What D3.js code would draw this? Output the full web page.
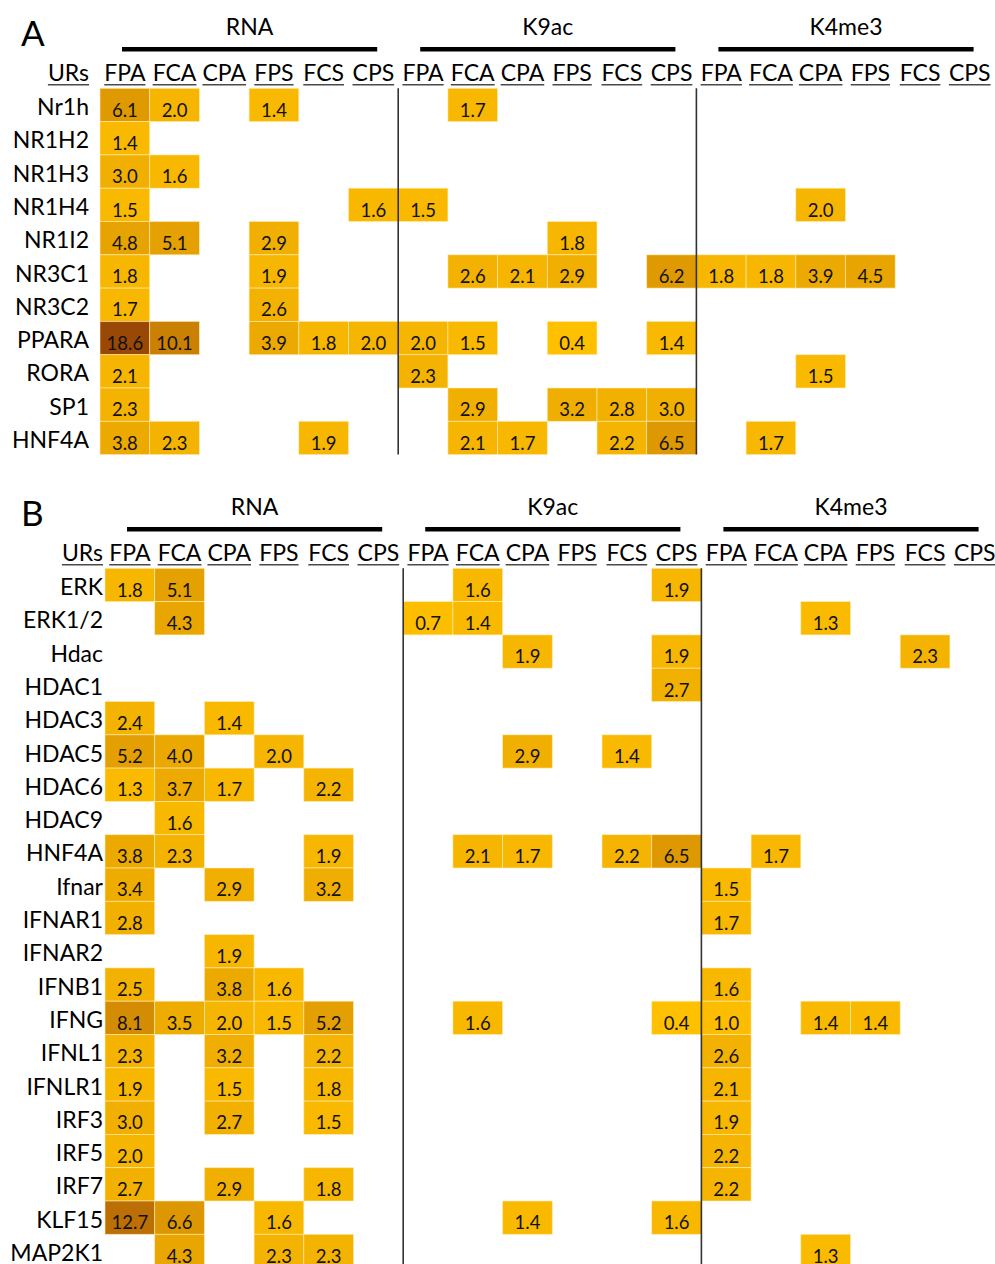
<!DOCTYPE html>
<html>
<head>
<meta charset="utf-8">
<script src="https://cdn.jsdelivr.net/npm/d3@7"></script>
<style>
  html, body { margin: 0; padding: 0; background: #fff; }
  svg { display: block; font-family: Lato, "Open Sans", sans-serif; }
</style>
</head>
<body>
<script>
// Assay groups and the six comparisons measured in each
const groups = ["RNA", "K9ac", "K4me3"];
const comparisons = ["FPA", "FCA", "CPA", "FPS", "FCS", "CPS"];

// Panel A: nuclear receptor upstream regulators
const rowsA = ["Nr1h", "NR1H2", "NR1H3", "NR1H4", "NR1I2", "NR3C1", "NR3C2", "PPARA", "RORA", "SP1", "HNF4A"];
const valuesA = [
  [6.1, 2.0, null, 1.4, null, null,   null, 1.7, null, null, null, null,   null, null, null, null, null, null],
  [1.4, null, null, null, null, null, null, null, null, null, null, null,  null, null, null, null, null, null],
  [3.0, 1.6, null, null, null, null,  null, null, null, null, null, null,  null, null, null, null, null, null],
  [1.5, null, null, null, null, 1.6,  1.5, null, null, null, null, null,   null, null, 2.0, null, null, null],
  [4.8, 5.1, null, 2.9, null, null,   null, null, null, 1.8, null, null,   null, null, null, null, null, null],
  [1.8, null, null, 1.9, null, null,  null, 2.6, 2.1, 2.9, null, 6.2,      1.8, 1.8, 3.9, 4.5, null, null],
  [1.7, null, null, 2.6, null, null,  null, null, null, null, null, null,  null, null, null, null, null, null],
  [18.6, 10.1, null, 3.9, 1.8, 2.0,   2.0, 1.5, null, 0.4, null, 1.4,      null, null, null, null, null, null],
  [2.1, null, null, null, null, null, 2.3, null, null, null, null, null,   null, null, 1.5, null, null, null],
  [2.3, null, null, null, null, null, null, 2.9, null, 3.2, 2.8, 3.0,      null, null, null, null, null, null],
  [3.8, 2.3, null, null, 1.9, null,   null, 2.1, 1.7, null, 2.2, 6.5,      null, 1.7, null, null, null, null]
];

// Panel B: kinase, HDAC and interferon-pathway upstream regulators
const rowsB = ["ERK", "ERK1/2", "Hdac", "HDAC1", "HDAC3", "HDAC5", "HDAC6", "HDAC9", "HNF4A", "Ifnar", "IFNAR1",
               "IFNAR2", "IFNB1", "IFNG", "IFNL1", "IFNLR1", "IRF3", "IRF5", "IRF7", "KLF15", "MAP2K1"];
const valuesB = [
  [1.8, 5.1, null, null, null, null,  null, 1.6, null, null, null, 1.9,    null, null, null, null, null, null],
  [null, 4.3, null, null, null, null, 0.7, 1.4, null, null, null, null,    null, null, 1.3, null, null, null],
  [null, null, null, null, null, null, null, null, 1.9, null, null, 1.9,   null, null, null, null, 2.3, null],
  [null, null, null, null, null, null, null, null, null, null, null, 2.7,  null, null, null, null, null, null],
  [2.4, null, 1.4, null, null, null,  null, null, null, null, null, null,  null, null, null, null, null, null],
  [5.2, 4.0, null, 2.0, null, null,   null, null, 2.9, null, 1.4, null,    null, null, null, null, null, null],
  [1.3, 3.7, 1.7, null, 2.2, null,    null, null, null, null, null, null,  null, null, null, null, null, null],
  [null, 1.6, null, null, null, null, null, null, null, null, null, null,  null, null, null, null, null, null],
  [3.8, 2.3, null, null, 1.9, null,   null, 2.1, 1.7, null, 2.2, 6.5,      null, 1.7, null, null, null, null],
  [3.4, null, 2.9, null, 3.2, null,   null, null, null, null, null, null,  1.5, null, null, null, null, null],
  [2.8, null, null, null, null, null, null, null, null, null, null, null,  1.7, null, null, null, null, null],
  [null, null, 1.9, null, null, null, null, null, null, null, null, null,  null, null, null, null, null, null],
  [2.5, null, 3.8, 1.6, null, null,   null, null, null, null, null, null,  1.6, null, null, null, null, null],
  [8.1, 3.5, 2.0, 1.5, 5.2, null,     null, 1.6, null, null, null, 0.4,    1.0, null, 1.4, 1.4, null, null],
  [2.3, null, 3.2, null, 2.2, null,   null, null, null, null, null, null,  2.6, null, null, null, null, null],
  [1.9, null, 1.5, null, 1.8, null,   null, null, null, null, null, null,  2.1, null, null, null, null, null],
  [3.0, null, 2.7, null, 1.5, null,   null, null, null, null, null, null,  1.9, null, null, null, null, null],
  [2.0, null, null, null, null, null, null, null, null, null, null, null,  2.2, null, null, null, null, null],
  [2.7, null, 2.9, null, 1.8, null,   null, null, null, null, null, null,  2.2, null, null, null, null, null],
  [12.7, 6.6, null, 1.6, null, null,  null, null, 1.4, null, null, 1.6,    null, null, null, null, null, null],
  [null, 4.3, null, 2.3, 2.3, null,   null, null, null, null, null, null,  null, null, 1.3, null, null, null]
];

const W = 995, H = 1264;
const colW = 49.7, rowH = 33.3;
const columns = groups.flatMap(g => comparisons.map(c => g + "|" + c));
const fmt = d3.format(".1f");

// One colour ramp shared by both panels: gold for small values, brown for the largest
const color = d3.scaleLinear().domain([0.4, 18.6]).range(["#FFC000", "#9A4806"]).interpolate(d3.interpolateRgb);

const svg = d3.select("body").append("svg").attr("width", W).attr("height", H);
svg.append("rect").attr("width", W).attr("height", H).attr("fill", "#fff");

function underline(g, textSel, anchor, x, y) {
  const w = textSel.node().getComputedTextLength();
  const x0 = anchor === "end" ? x - w : x - w / 2;
  g.append("line").attr("x1", x0).attr("x2", x0 + w).attr("y1", y).attr("y2", y)
    .attr("stroke", "#4a4a4a").attr("stroke-width", 1.4);
}

function drawPanel(opt) {
  const { letter, rows, values, left, top, labelRight, lineBottom } = opt;
  const g = svg.append("g");
  const x = d3.scaleBand().domain(columns).range([left, left + colW * columns.length]).paddingInner(0).paddingOuter(0);
  const y = d3.scaleBand().domain(rows).range([top, top + rowH * rows.length]);

  // Panel letter
  g.append("text").attr("x", 21).attr("y", top - 42).attr("font-size", 35).attr("fill", "#000").text(letter);

  // Group titles over thick rules
  groups.forEach(grp => {
    const x1 = x(grp + "|" + comparisons[0]) + 22;
    const x2 = x(grp + "|" + comparisons[comparisons.length - 1]) + x.bandwidth() - 21;
    g.append("line").attr("x1", x1).attr("x2", x2).attr("y1", top - 39).attr("y2", top - 39)
      .attr("stroke", "#000").attr("stroke-width", 4.5);
    g.append("text").attr("x", (x1 + x2) / 2).attr("y", top - 53).attr("text-anchor", "middle")
      .attr("font-size", 23).attr("fill", "#000").text(grp);
  });

  // Column headers, underlined
  const hy = top - 7.5;
  const urs = g.append("text").attr("x", labelRight).attr("y", hy).attr("text-anchor", "end")
    .attr("font-size", 23).attr("fill", "#000").text("URs");
  underline(g, urs, "end", labelRight, hy + 4);
  columns.forEach(col => {
    const cx = x(col) + x.bandwidth() / 2;
    const t = g.append("text").attr("x", cx).attr("y", hy).attr("text-anchor", "middle")
      .attr("font-size", 23).attr("fill", "#000").text(col.split("|")[1]);
    underline(g, t, "middle", cx, hy + 4);
  });

  // Heatmap cells
  const cells = [];
  rows.forEach((r, i) => values[i].forEach((v, j) => { if (v !== null) cells.push({ r, col: columns[j], v }); }));
  g.selectAll("rect.cell").data(cells).join("rect").attr("class", "cell")
    .attr("x", d => x(d.col)).attr("y", d => y(d.r))
    .attr("width", x.bandwidth()).attr("height", y.bandwidth())
    .attr("fill", d => color(d.v))
    .attr("stroke", "rgba(255,236,180,0.75)").attr("stroke-width", 0.8);
  g.selectAll("text.val").data(cells).join("text").attr("class", "val")
    .attr("x", d => x(d.col) + x.bandwidth() / 2).attr("y", d => y(d.r) + y.bandwidth() - 5)
    .attr("text-anchor", "middle").attr("font-size", 18.5).attr("fill", "#111")
    .text(d => fmt(d.v));

  // Row labels
  g.selectAll("text.row").data(rows).join("text").attr("class", "row")
    .attr("x", labelRight).attr("y", d => y(d) + 26.7).attr("text-anchor", "end")
    .attr("font-size", 23).attr("fill", "#000").text(d => d);

  // Separators between assay groups
  [groups[1], groups[2]].forEach(grp => {
    const xv = x(grp + "|" + comparisons[0]);
    g.append("line").attr("x1", xv).attr("x2", xv).attr("y1", top).attr("y2", lineBottom)
      .attr("stroke", "#333").attr("stroke-width", 1.6);
  });
}

drawPanel({ letter: "A", rows: rowsA, values: valuesA, left: 100, top: 88.3, labelRight: 89, lineBottom: 88.3 + rowH * rowsA.length });
drawPanel({ letter: "B", rows: rowsB, values: valuesB, left: 105, top: 568.3, labelRight: 103, lineBottom: H });
</script>
</body>
</html>
